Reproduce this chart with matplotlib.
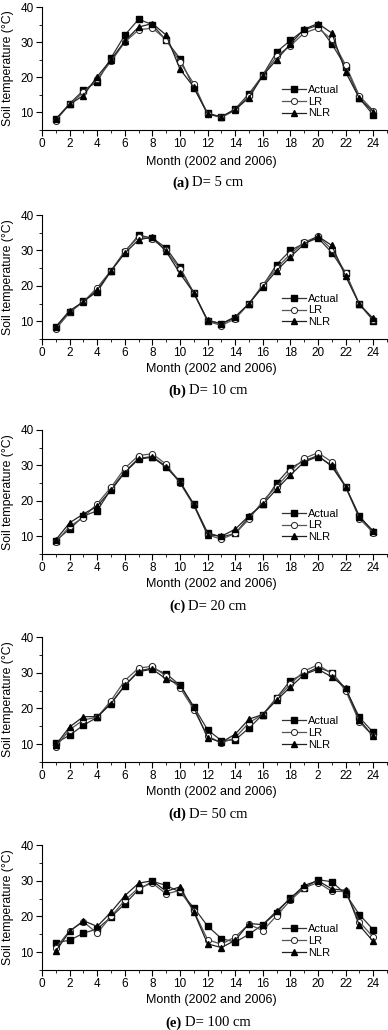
import numpy as np
import matplotlib
matplotlib.use('Agg')
import matplotlib.pyplot as plt
from matplotlib.ticker import MultipleLocator, FixedLocator

plt.rcParams['font.family'] = ['Liberation Sans', 'DejaVu Sans']

months = np.arange(1, 25)

# D = 5 cm
act_5 = [8.0, 12.5, 16.3, 18.7, 25.5, 32.0, 36.5, 35.0, 30.5, 25.3, 17.0, 9.8,
         8.7, 11.0, 15.3, 20.6, 27.2, 30.5, 33.5, 34.8, 29.5, 23.0, 14.0, 9.3]
lr_5 = [7.7, 12.3, 15.7, 19.5, 24.5, 30.0, 33.5, 34.0, 30.7, 24.3, 18.2, 9.5,
        8.6, 10.6, 14.8, 20.5, 26.0, 29.0, 32.6, 34.0, 30.8, 23.5, 14.7, 10.5]
nlr_5 = [8.2, 12.3, 14.8, 20.2, 25.0, 30.3, 34.3, 35.3, 32.0, 22.3, 17.2, 9.5,
         8.8, 10.8, 14.2, 20.5, 25.0, 29.5, 33.7, 35.3, 32.6, 21.5, 14.0, 10.2]

# D = 10 cm
act_10 = [8.3, 12.5, 15.7, 18.3, 24.2, 29.6, 34.3, 33.5, 30.7, 25.2, 18.0, 10.2,
          9.3, 11.0, 15.0, 20.0, 26.0, 30.0, 32.0, 33.5, 29.4, 23.5, 14.8, 10.2]
lr_10 = [7.8, 12.5, 15.5, 19.5, 24.3, 29.8, 33.8, 33.2, 30.0, 24.7, 18.0, 10.0,
         8.8, 10.7, 15.0, 20.3, 25.0, 29.0, 32.3, 34.0, 30.3, 23.7, 14.8, 10.5]
nlr_10 = [8.5, 13.0, 15.5, 18.8, 24.2, 29.2, 33.0, 33.8, 29.7, 23.5, 18.0, 10.3,
          9.3, 11.3, 15.0, 19.7, 24.3, 28.2, 31.8, 34.0, 31.4, 22.7, 14.8, 10.8]

# D = 20 cm
act_20 = [8.8, 12.0, 15.7, 17.2, 23.3, 28.2, 32.0, 32.5, 29.7, 25.5, 19.0, 11.0,
          9.8, 10.8, 15.5, 19.2, 25.0, 29.3, 31.3, 32.8, 29.7, 24.0, 15.7, 11.2]
lr_20 = [8.3, 12.8, 15.3, 19.2, 23.8, 29.2, 32.8, 33.3, 30.3, 25.0, 18.7, 10.4,
         9.2, 10.8, 14.8, 20.0, 24.0, 28.3, 32.0, 33.6, 31.0, 24.0, 15.0, 11.0]
nlr_20 = [9.0, 13.8, 16.3, 18.5, 23.0, 28.0, 31.8, 32.3, 29.5, 25.3, 19.0, 10.5,
          10.0, 12.0, 15.8, 19.0, 23.3, 27.3, 31.0, 32.5, 30.0, 24.0, 15.5, 11.5]

# D = 50 cm
act_50 = [10.3, 12.5, 15.3, 17.5, 21.5, 26.3, 30.5, 31.3, 29.7, 26.5, 20.5, 14.0,
          11.0, 11.2, 14.5, 18.3, 23.0, 27.8, 29.7, 31.5, 30.0, 25.5, 17.5, 13.3]
lr_50 = [9.3, 14.0, 16.8, 17.5, 22.2, 27.8, 31.3, 31.8, 29.0, 25.8, 19.7, 12.3,
         10.3, 11.8, 16.0, 18.3, 22.8, 26.8, 30.5, 32.2, 29.8, 25.0, 16.2, 12.3]
nlr_50 = [9.8, 14.8, 17.7, 17.7, 21.3, 26.5, 30.3, 31.0, 28.2, 26.7, 20.3, 11.8,
          10.5, 12.8, 17.0, 18.3, 22.3, 26.0, 29.5, 31.0, 28.8, 25.8, 16.8, 12.2]

# D = 100 cm
act_100 = [12.7, 13.3, 15.3, 16.5, 19.8, 23.5, 27.5, 29.8, 28.7, 26.8, 22.5, 17.3,
           13.8, 12.8, 15.0, 17.7, 21.0, 25.3, 28.0, 30.3, 29.7, 26.3, 20.5, 16.3]
lr_100 = [11.2, 16.0, 18.5, 15.3, 20.0, 24.5, 28.0, 29.3, 26.3, 27.3, 21.5, 13.5,
          12.2, 14.3, 17.8, 16.0, 20.2, 24.5, 28.0, 29.5, 27.0, 27.0, 18.5, 14.2]
nlr_100 = [10.3, 15.8, 18.8, 17.2, 21.2, 25.8, 29.3, 30.0, 27.0, 28.3, 21.3, 12.3,
           11.3, 13.3, 18.0, 17.7, 21.5, 25.0, 28.7, 30.0, 27.7, 27.3, 17.5, 13.0]

letters = ['(a)', '(b)', '(c)', '(d)', '(e)']
depths = ['D= 5 cm', 'D= 10 cm', 'D= 20 cm', 'D= 50 cm', 'D= 100 cm']
series = [(act_5, lr_5, nlr_5), (act_10, lr_10, nlr_10), (act_20, lr_20, nlr_20),
          (act_50, lr_50, nlr_50), (act_100, lr_100, nlr_100)]
x_ticks = np.arange(0, 25, 2)
x_labels = [str(t) for t in x_ticks]
x_labels_d = x_labels.copy()
x_labels_d[10] = '2'  # as printed in panel (d)

W, H = 388, 1030
# pixel rows of y=40 line and x axis for each panel
tops = [7, 215, 430, 637, 845]
bottoms = [130, 339, 554, 762, 970]
xlab_y = [162, 369, 584, 792, 1000]
cap_y = [183, 391, 606, 814, 1023]

fig = plt.figure(figsize=(W / 100, H / 100), dpi=100)
renderer = fig.canvas.get_renderer()

for i in range(5):
    left, right = 42, 387
    ax = fig.add_axes([left / W, 1 - bottoms[i] / H, (right - left) / W,
                       (bottoms[i] - tops[i]) / H])
    act, lr, nlr = series[i]
    ax.plot(months, act, '-s', color='#333333', mfc='black', mec='black',
            ms=4.2, lw=0.9, label='Actual')
    ax.plot(months, lr, '-o', color='#555555', mfc='white', mec='#222222',
            ms=4.4, lw=0.9, mew=0.7, label='LR')
    ax.plot(months, nlr, '-^', color='#222222', mfc='black', mec='black',
            ms=4.7, lw=0.9, label='NLR')
    ax.set_xlim(0, 25)
    ax.set_ylim(5, 40)
    ax.spines['top'].set_visible(False)
    ax.spines['right'].set_visible(False)
    ax.set_xticks(x_ticks)
    ax.set_xticklabels(x_labels_d if i == 3 else x_labels)
    ax.xaxis.set_minor_locator(MultipleLocator(1))
    ax.set_yticks([10, 20, 30, 40])
    ax.yaxis.set_minor_locator(FixedLocator([5, 15, 25, 35]))
    ax.tick_params(which='major', length=4, width=0.8, labelsize=8.5, pad=2)
    ax.tick_params(which='minor', length=2, width=0.6)
    ax.set_ylabel('Soil temperature (°C)', fontsize=8.8)
    ax.yaxis.set_label_coords(-0.08, 0.5)
    ax.legend(loc='upper left', bbox_to_anchor=(0.695, 0.365), frameon=False,
              fontsize=8, handlelength=2.2, handletextpad=0.2, labelspacing=0.15,
              borderaxespad=0, borderpad=0)
    fig.text(211 / W, 1 - xlab_y[i] / H, 'Month (2002 and 2006)', ha='center',
             va='center', fontsize=9)
    # caption: bold letter + regular text, centred as a pair
    t1 = fig.text(0, 1 - cap_y[i] / H, letters[i], ha='left', va='center',
                  fontsize=10.5, fontweight='bold', family='Liberation Serif')
    t2 = fig.text(0, 1 - cap_y[i] / H, depths[i], ha='left', va='center',
                  fontsize=10.5, family='Liberation Serif')
    w1 = t1.get_window_extent(renderer).width
    w2 = t2.get_window_extent(renderer).width
    gap = 3
    x0 = 208 - (w1 + gap + w2) / 2
    t1.set_x(x0 / W)
    t2.set_x((x0 + w1 + gap) / W)

fig.savefig('out.png', dpi=100)
